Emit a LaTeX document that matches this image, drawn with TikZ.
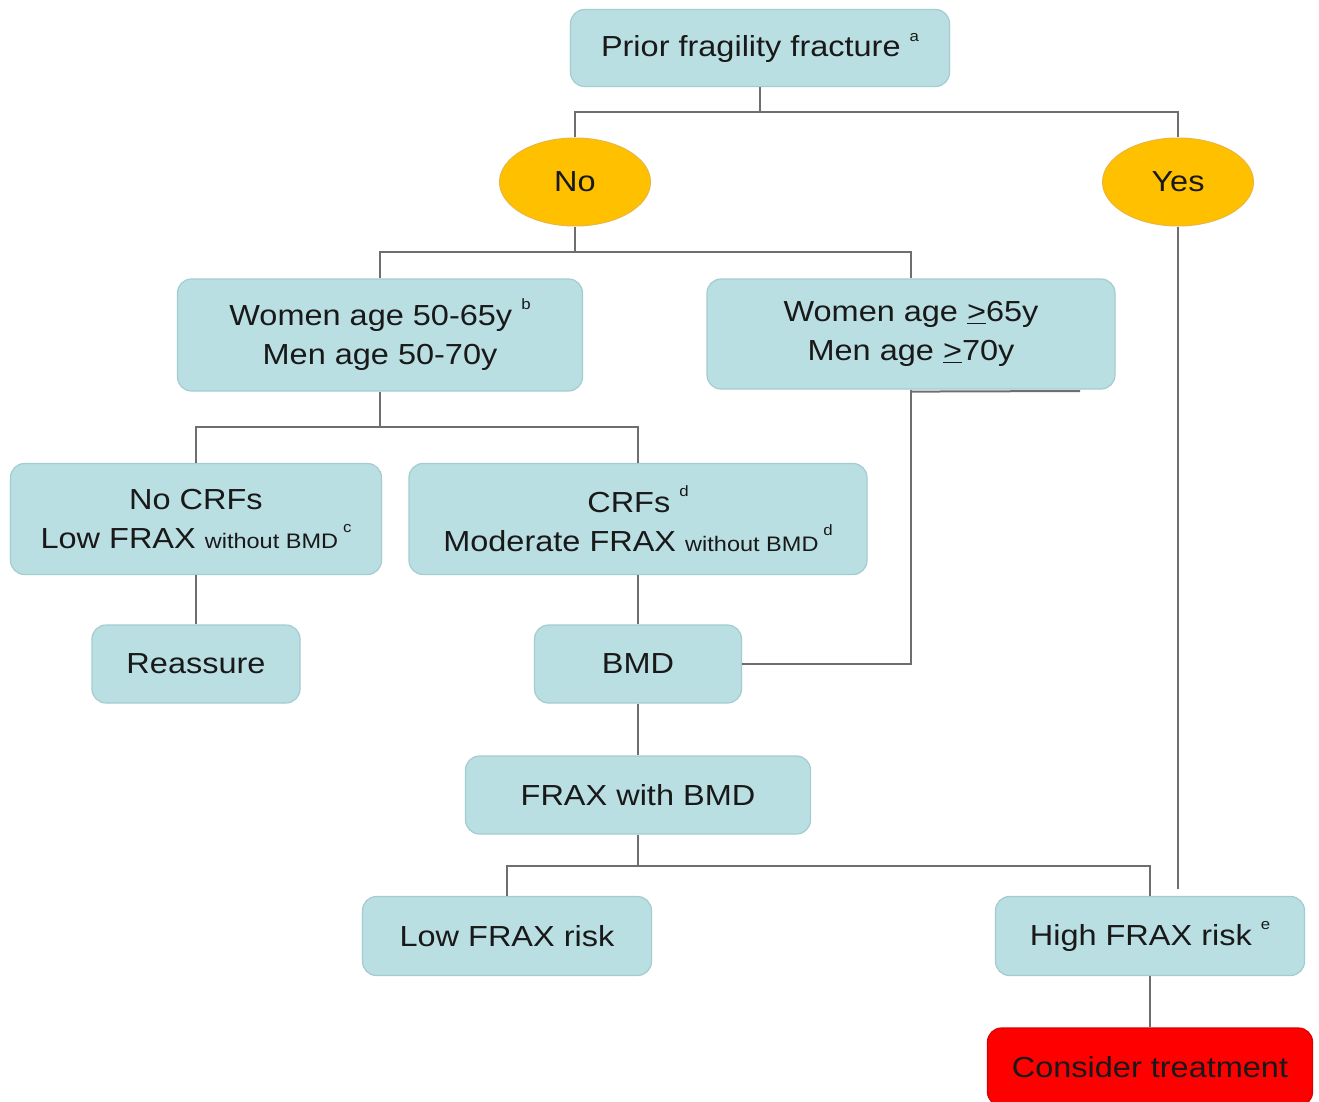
\documentclass[tikz,border=0pt]{standalone}
\usepackage{fontspec}
\setmainfont{Liberation Sans}[FakeStretch=1.12]
\usetikzlibrary{shapes.geometric}
\definecolor{boxfill}{HTML}{BADFE3}
\definecolor{boxline}{HTML}{A3CCD1}
\definecolor{ovalfill}{HTML}{FFC000}
\definecolor{ovalline}{HTML}{E8B640}
\definecolor{redfill}{HTML}{FF0000}
\definecolor{conncol}{HTML}{6E6E6E}
\newcommand{\supr}[1]{\raisebox{0.55em}{\fontsize{15}{15}\selectfont #1}}
\newcommand{\smalltxt}[1]{{\fontsize{21}{21}\selectfont #1}}
\tikzset{
  boxnode/.style={draw=boxline, line width=1.2pt, fill=boxfill, rounded corners=14pt,
    align=center, inner sep=0pt, font=\fontsize{29}{39}\selectfont, text=black!90},
  ovalnode/.style={ellipse, draw=ovalline, line width=1pt, fill=ovalfill, inner sep=0pt,
    minimum width=151pt, minimum height=88pt, font=\fontsize{29}{39}\selectfont, text=black!90},
  conn/.style={draw=conncol, line width=2pt}
}
\begin{document}
\begin{tikzpicture}[x=1pt,y=-1pt]
\useasboundingbox (0,0) rectangle (1319,1102);
\node[boxnode, minimum width=379pt, minimum height=77pt] (top) at (760,48) {Prior fragility fracture \supr{a}};
\node[ovalnode] (no) at (575,182) {No};
\node[ovalnode] (yes) at (1178,182) {Yes};
\node[boxnode, minimum width=405pt, minimum height=112pt] (w1) at (380,335) {Women age 50-65y \supr{b}\\Men age 50-70y};
\node[boxnode, minimum width=408pt, minimum height=110pt] (w2) at (911,334) {Women age \underline{>}65y\\Men age \underline{>}70y};
\node[boxnode, minimum width=371pt, minimum height=111pt] (nocrf) at (196,519) {No CRFs\\Low FRAX \smalltxt{without BMD}\,\supr{c}};
\node[boxnode, minimum width=458pt, minimum height=111pt] (crf) at (638,519) {CRFs \supr{d}\\Moderate FRAX \smalltxt{without BMD}\,\supr{d}};
\node[boxnode, minimum width=208pt, minimum height=78pt] (reas) at (196,664) {Reassure};
\node[boxnode, minimum width=207pt, minimum height=78pt] (bmd) at (638,664) {BMD};
\node[boxnode, minimum width=345pt, minimum height=78pt] (fbmd) at (638,795) {FRAX with BMD};
\node[boxnode, minimum width=289pt, minimum height=79pt] (low) at (507,936) {Low FRAX risk};
\node[boxnode, minimum width=309pt, minimum height=79pt] (high) at (1150,936) {High FRAX risk \supr{e}};
\node[boxnode, fill=redfill, draw=red!85!black, minimum width=325pt, minimum height=78pt] (treat) at (1150,1067) {Consider treatment};
% junction coordinates
\coordinate (j1) at (760,112);
\coordinate (j2) at (575,252);
\coordinate (j3) at (380,427);
\coordinate (j4) at (638,866);
\coordinate (yesend) at (1178,889);
\coordinate (w2tail) at (1080,391);
% connectors
\draw[conn] (top.south) -- (j1) -| (no.north);
\draw[conn] (j1) -| (yes.north);
\draw[conn] (no.south) -- (j2) -| (w1.north);
\draw[conn] (j2) -| (w2.north);
\draw[conn] (w1.south) -- (j3) -| (nocrf.north);
\draw[conn] (j3) -| (crf.north);
\draw[conn] (nocrf.south) -- (reas.north);
\draw[conn] (crf.south) -- (bmd.north);
\draw[conn] (w2.south) |- (bmd.east);
\draw[conn] (w2.south) ++(0,2) -- (w2tail);
\draw[conn] (bmd.south) -- (fbmd.north);
\draw[conn] (fbmd.south) -- (j4) -| (low.north);
\draw[conn] (j4) -| (high.north);
\draw[conn] (yes.south) -- (yesend);
\draw[conn] (high.south) -- (treat.north);
\end{tikzpicture}
\end{document}
